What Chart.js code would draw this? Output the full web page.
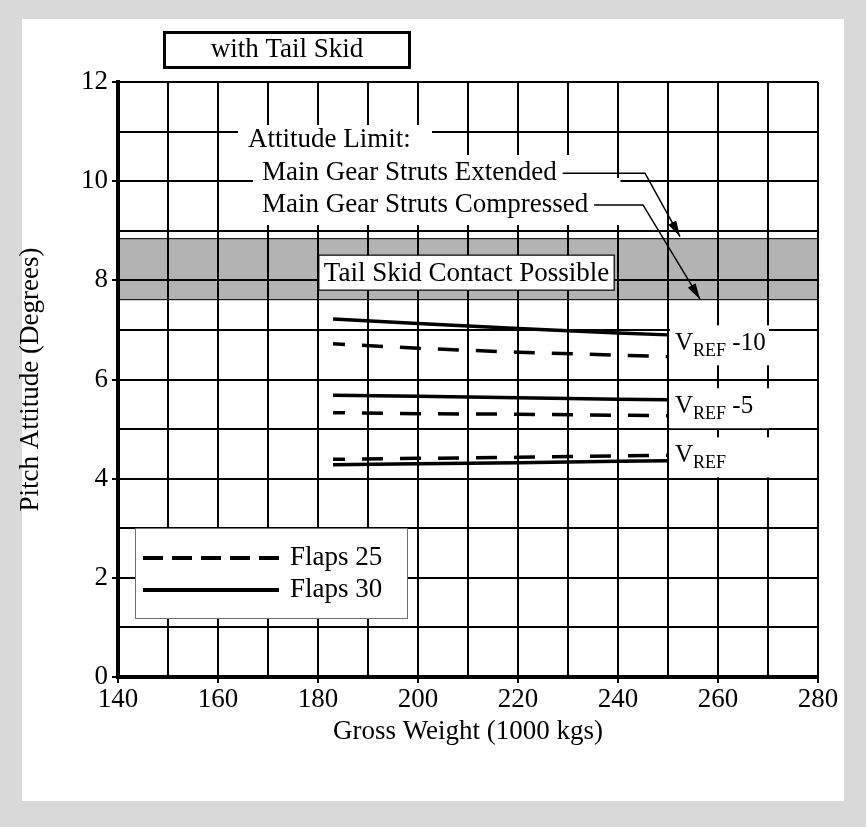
<!DOCTYPE html>
<html><head><meta charset="utf-8">
<script src="https://cdn.jsdelivr.net/npm/chart.js@4.4.0/dist/chart.umd.min.js"></script>
<style>
html,body{margin:0;padding:0;background:#d9d9d9;}
#wrap{position:absolute;left:0;top:0;width:866px;height:827px;}
</style></head><body>
<div id="wrap"><canvas id="c" width="866" height="827"></canvas></div>
<script>
// ---- data ----
const weights = [183, 200, 220, 240, 250];
const flaps30Vref10 = [7.22, 7.13, 7.03, 6.94, 6.90];
const flaps25Vref10 = [6.72, 6.63, 6.55, 6.49, 6.46];
const flaps30Vref5  = [5.68, 5.66, 5.63, 5.60, 5.59];
const flaps25Vref5  = [5.33, 5.31, 5.30, 5.28, 5.27];
const flaps30Vref   = [4.28, 4.30, 4.32, 4.35, 4.36];
const flaps25Vref   = [4.39, 4.41, 4.43, 4.46, 4.47];
const tailSkidBand  = [7.6, 8.85];
const legendNames   = ['Flaps 25', 'Flaps 30'];
const speedNames    = [' -10', ' -5', ''];
const xTickValues   = [140, 160, 180, 200, 220, 240, 260, 280];
const yTickValues   = [0, 2, 4, 6, 8, 10, 12];

const FONT = '"Liberation Serif", "Times New Roman", serif';
const F = (s) => s + 'px ' + FONT;

function pts(ys){ return weights.map((w,i)=>({x:w, y:ys[i]})); }
const DASH = [21, 17];
function ds(label, ys, dashed){
  return {label, data: pts(ys), borderColor:'#000', borderWidth: 3.5,
    borderDash: dashed?DASH:[], borderDashOffset: dashed?9:0, pointRadius:0, tension:0, fill:false};
}

const decor = {
  id:'decor',
  beforeDraw(chart){
    const {ctx, chartArea:a, scales:{x,y}} = chart;
    ctx.save();
    ctx.fillStyle='#d9d9d9'; ctx.fillRect(0,0,chart.width,chart.height);
    ctx.fillStyle='#ffffff'; ctx.fillRect(22,19,822,782);
    const t=y.getPixelForValue(tailSkidBand[1]), b=y.getPixelForValue(tailSkidBand[0]);
    ctx.fillStyle='#b3b3b3'; ctx.fillRect(a.left,t,a.right-a.left,b-t);
    ctx.strokeStyle='#000'; ctx.lineWidth=1;
    ctx.beginPath(); ctx.moveTo(a.left,t+0.5); ctx.lineTo(a.right,t+0.5);
    ctx.moveTo(a.left,b-0.5); ctx.lineTo(a.right,b-0.5); ctx.stroke();
    ctx.restore();
  },
  afterDatasetsDraw(chart){
    const {ctx, chartArea:a, scales:{x,y}} = chart;
    const X=v=>x.getPixelForValue(v), Y=v=>y.getPixelForValue(v);
    ctx.save();
    ctx.textBaseline='middle';
    // white masks behind annotation texts
    ctx.fillStyle='#fff';
    ctx.fillRect(X(164), 125, X(202.8)-X(164), 32);
    ctx.fillRect(X(167), 155, X(234.4)-X(167), 24);
    ctx.fillRect(X(167), 178, X(240.5)-X(167), 47);
    // attitude texts
    ctx.fillStyle='#000'; ctx.font=F(27); ctx.textAlign='left';
    ctx.fillText('Attitude Limit:', X(166), Y(10.83));
    const yE=Y(10.16), yC=Y(9.52);
    ctx.fillText('Main Gear Struts Extended', X(168.8), yE);
    ctx.fillText('Main Gear Struts Compressed', X(168.8), yC);
    const wE=ctx.measureText('Main Gear Struts Extended').width;
    const wC=ctx.measureText('Main Gear Struts Compressed').width;
    function arrow(path){
      ctx.strokeStyle='#000'; ctx.lineWidth=1.5; ctx.beginPath();
      ctx.moveTo(path[0][0],path[0][1]);
      for(let i=1;i<path.length;i++) ctx.lineTo(path[i][0],path[i][1]);
      ctx.stroke();
      const [x1,y1]=path[path.length-2],[x2,y2]=path[path.length-1];
      const ang=Math.atan2(y2-y1,x2-x1), L=16, W=4.5;
      ctx.beginPath(); ctx.moveTo(x2,y2);
      ctx.lineTo(x2-L*Math.cos(ang)+W*Math.sin(ang), y2-L*Math.sin(ang)-W*Math.cos(ang));
      ctx.lineTo(x2-L*Math.cos(ang)-W*Math.sin(ang), y2-L*Math.sin(ang)+W*Math.cos(ang));
      ctx.closePath(); ctx.fillStyle='#000'; ctx.fill();
    }
    arrow([[X(168.8)+wE+6,yE],[X(245.4),yE],[X(252.4),Y(8.88)]]);
    arrow([[X(168.8)+wC+6,yC],[X(245),yC],[X(256.4),Y(7.62)]]);
    // tail skid box
    ctx.font=F(27);
    const tw=ctx.measureText('Tail Skid Contact Possible').width;
    const cx=X(209.7), cy=Y(8.155);
    ctx.fillStyle='#fff'; ctx.fillRect(cx-tw/2-5, cy-17.5, tw+10, 35);
    ctx.strokeStyle='#000'; ctx.lineWidth=1.2; ctx.strokeRect(cx-tw/2-5, cy-17.5, tw+10, 35);
    ctx.fillStyle='#000'; ctx.textAlign='center'; ctx.fillText('Tail Skid Contact Possible', cx, cy+1);
    // speed labels
    const sy=[6.69,5.42,4.43];
    ctx.textAlign='left';
    speedNames.forEach((s,i)=>{
      const lx=X(250)+2, cyv=Y(sy[i]);
      ctx.fillStyle='#fff'; ctx.fillRect(lx, cyv-20, 99, 40);
      ctx.fillStyle='#000';
      let px=X(250)+7;
      ctx.textBaseline='alphabetic';
      ctx.font=F(25); ctx.fillText('V', px, cyv+5); px+=ctx.measureText('V').width;
      ctx.font=F(18); ctx.fillText('REF', px, cyv+11); px+=ctx.measureText('REF').width;
      ctx.font=F(25); ctx.fillText(s, px, cyv+5);
      ctx.textBaseline='middle';
    });
    // legend
    const lx=a.left+17, ly=a.bottom-149;
    ctx.fillStyle='#fff'; ctx.fillRect(lx,ly,272,90);
    ctx.strokeStyle='#707070'; ctx.lineWidth=1; ctx.strokeRect(lx+0.5,ly+0.5,272,90);
    [[true,ly+30],[false,ly+62]].forEach(([dashed,yy],i)=>{
      ctx.strokeStyle='#000'; ctx.lineWidth=4; ctx.setLineDash(dashed?[20,9]:[]);
      ctx.beginPath(); ctx.moveTo(lx+8,yy); ctx.lineTo(lx+144,yy); ctx.stroke();
      ctx.setLineDash([]);
      ctx.fillStyle='#000'; ctx.font=F(27); ctx.textAlign='left';
      ctx.fillText(legendNames[i], lx+155, yy);
    });
    // title box
    ctx.fillStyle='#fff'; ctx.fillRect(164,32,245,35);
    ctx.strokeStyle='#000'; ctx.lineWidth=3; ctx.strokeRect(164.5,32.5,245,35);
    ctx.fillStyle='#000'; ctx.font=F(27); ctx.textAlign='center';
    ctx.fillText('with Tail Skid', 287, 50);
    ctx.restore();
  }
};

const tickCol = (vals) => (c) => (c.tick && vals.includes(c.tick.value)) ? '#000' : 'rgba(0,0,0,0)';

new Chart(document.getElementById('c'), {
  type:'line',
  data:{datasets:[
    ds('Flaps 30 VREF -10', flaps30Vref10, false),
    ds('Flaps 25 VREF -10', flaps25Vref10, true),
    ds('Flaps 30 VREF -5', flaps30Vref5, false),
    ds('Flaps 25 VREF -5', flaps25Vref5, true),
    ds('Flaps 30 VREF', flaps30Vref, false),
    ds('Flaps 25 VREF', flaps25Vref, true)
  ]},
  options:{
    responsive:false, animation:false, devicePixelRatio:1,
    layout:{padding:{top:82,right:48,left:0,bottom:0}},
    plugins:{legend:{display:false}, tooltip:{enabled:false}, title:{display:false}},
    scales:{
      x:{type:'linear', min:140, max:280,
        ticks:{stepSize:10, autoSkip:false, maxRotation:0, padding:1, color:'#000', font:{family:FONT,size:27},
          callback:(v)=> xTickValues.includes(v)?String(v):''},
        grid:{color:'#000', lineWidth:2, tickLength:6, tickWidth:2, tickColor:tickCol(xTickValues)},
        border:{color:'#000', width:4},
        title:{display:true, text:'Gross Weight (1000 kgs)', color:'#000', font:{family:FONT,size:27}, padding:{top:0,bottom:79}},
        afterFit:(s)=>{s.height=150;}
      },
      y:{min:0, max:12,
        ticks:{stepSize:1, autoSkip:false, padding:4, color:'#000', font:{family:FONT,size:27},
          callback:(v)=> yTickValues.includes(v)?String(v):''},
        grid:{color:'#000', lineWidth:2, tickLength:6, tickWidth:2, tickColor:tickCol(yTickValues)},
        border:{color:'#000', width:4},
        title:{display:true, text:'Pitch Attitude (Degrees)', color:'#000', font:{family:FONT,size:27}, padding:{top:15,bottom:0}},
        afterFit:(s)=>{s.width=118;}
      }
    }
  },
  plugins:[decor]
});
</script>
</body></html>
